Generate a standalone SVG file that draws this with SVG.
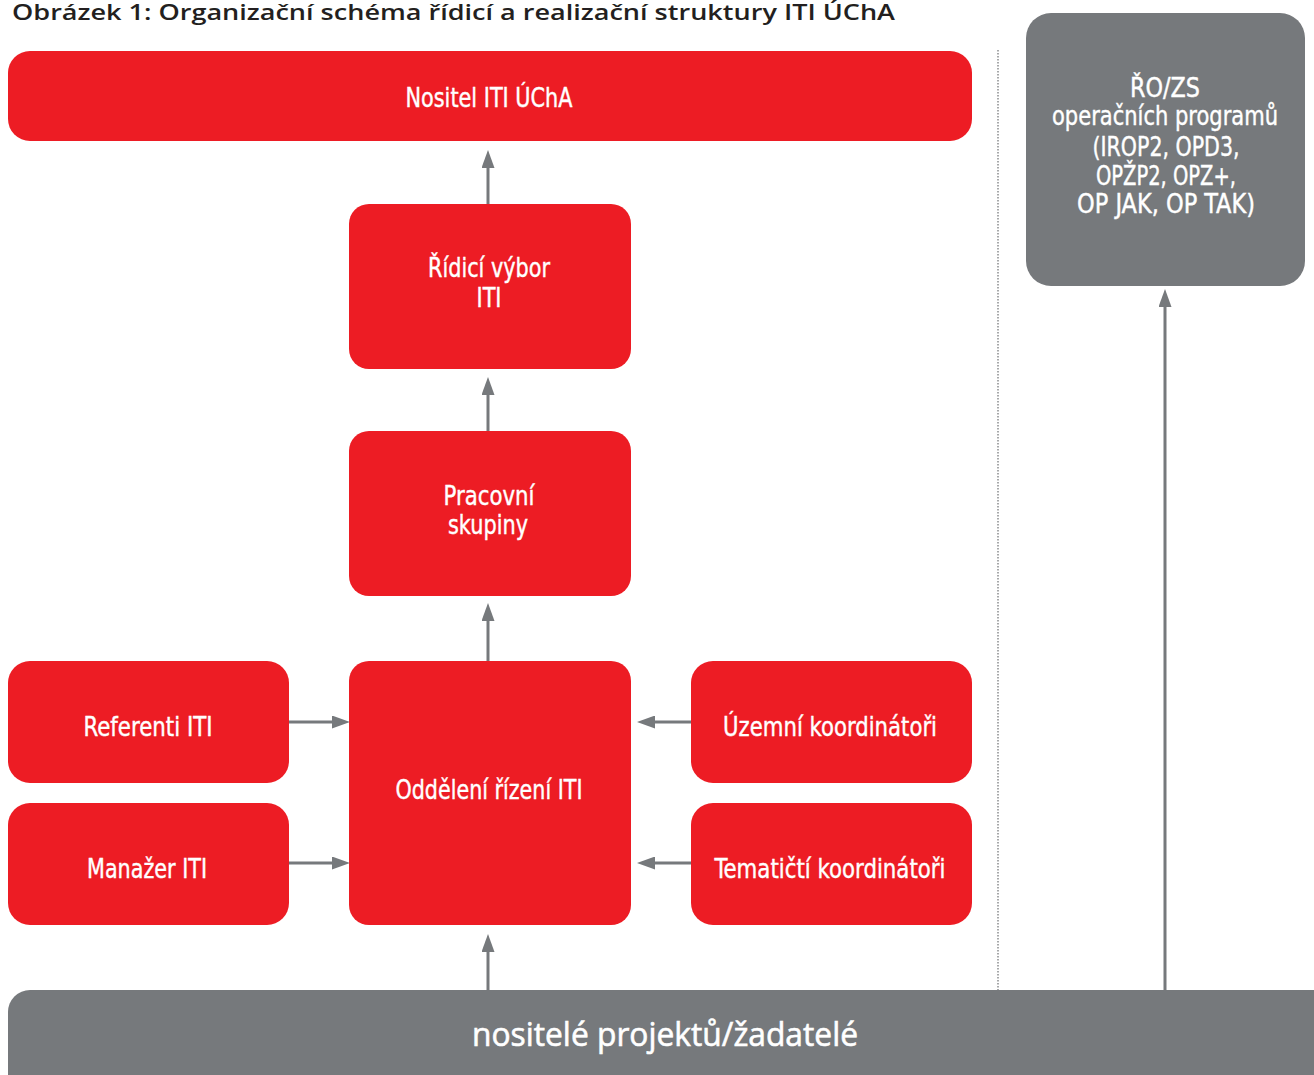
<svg xmlns="http://www.w3.org/2000/svg" width="1314" height="1075" viewBox="0 0 1314 1075">
<style>
.red{fill:#ed1c24}
.gray{fill:#76797c}
.lbl{fill:#ffffff;stroke:#ffffff;stroke-width:0.4;font-family:"DejaVu Sans Condensed","DejaVu Sans",sans-serif;font-stretch:condensed;font-size:26px;text-anchor:middle}
.big{fill:#ffffff;stroke:#ffffff;stroke-width:0.6;font-family:"Open Sans","Noto Sans",sans-serif;font-weight:500;font-size:33px;text-anchor:middle}
.title{fill:#231f20;font-family:"Open Sans","Noto Sans",sans-serif;font-weight:600;font-size:21px}
.con{stroke:#76797c;stroke-width:3;fill:none}
</style>
<defs>
<marker id="ah" markerUnits="userSpaceOnUse" markerWidth="18" markerHeight="13" refX="0" refY="6.5" orient="auto">
<path d="M0,0 L18,6.5 L0,13 Z" fill="#76797c"/>
</marker>
</defs>
<rect width="1314" height="1075" fill="#ffffff"/>
<text class="title" x="12" y="20" textLength="883" lengthAdjust="spacingAndGlyphs">Obrázek 1: Organizační schéma řídicí a realizační struktury ITI ÚChA</text>
<line x1="998" y1="50" x2="998" y2="990" stroke="#8a8c8e" stroke-width="1.5" stroke-dasharray="1.5 1.5"/>
<g id="connectors">
<line class="con" x1="488" y1="204" x2="488" y2="168" marker-end="url(#ah)"/>
<line class="con" x1="488" y1="431" x2="488" y2="395" marker-end="url(#ah)"/>
<line class="con" x1="488" y1="661" x2="488" y2="621" marker-end="url(#ah)"/>
<line class="con" x1="488" y1="990" x2="488" y2="952" marker-end="url(#ah)"/>
<line class="con" x1="289" y1="722" x2="332" y2="722" marker-end="url(#ah)"/>
<line class="con" x1="289" y1="863" x2="332" y2="863" marker-end="url(#ah)"/>
<line class="con" x1="691" y1="722" x2="655" y2="722" marker-end="url(#ah)"/>
<line class="con" x1="691" y1="863" x2="655" y2="863" marker-end="url(#ah)"/>
<line class="con" x1="1165" y1="990" x2="1165" y2="307" stroke-width="2.5" marker-end="url(#ah)"/>
</g>
<g id="nositel">
<rect class="red" x="8" y="51" width="964" height="90" rx="22"/>
<text class="lbl" x="489" y="107" textLength="167" lengthAdjust="spacingAndGlyphs">Nositel ITI ÚChA</text>
</g>
<g id="ridici-vybor">
<rect class="red" x="349" y="204" width="282" height="165" rx="20"/>
<text class="lbl" x="489" y="277" textLength="122" lengthAdjust="spacingAndGlyphs">Řídicí výbor</text>
<text class="lbl" x="489" y="307" textLength="25" lengthAdjust="spacingAndGlyphs">ITI</text>
</g>
<g id="pracovni-skupiny">
<rect class="red" x="349" y="431" width="282" height="165" rx="20"/>
<text class="lbl" x="489" y="505" textLength="91" lengthAdjust="spacingAndGlyphs">Pracovní</text>
<text class="lbl" x="488" y="534" textLength="80" lengthAdjust="spacingAndGlyphs">skupiny</text>
</g>
<g id="oddeleni">
<rect class="red" x="349" y="661" width="282" height="264" rx="20"/>
<text class="lbl" x="489" y="799" textLength="187" lengthAdjust="spacingAndGlyphs">Oddělení řízení ITI</text>
</g>
<g id="referenti">
<rect class="red" x="8" y="661" width="281" height="122" rx="22"/>
<text class="lbl" x="148" y="736" textLength="129" lengthAdjust="spacingAndGlyphs">Referenti ITI</text>
</g>
<g id="manazer">
<rect class="red" x="8" y="803" width="281" height="122" rx="22"/>
<text class="lbl" x="147" y="878" textLength="120" lengthAdjust="spacingAndGlyphs">Manažer ITI</text>
</g>
<g id="uzemni">
<rect class="red" x="691" y="661" width="281" height="122" rx="22"/>
<text class="lbl" x="830" y="736" textLength="214" lengthAdjust="spacingAndGlyphs">Územní koordinátoři</text>
</g>
<g id="tematicti">
<rect class="red" x="691" y="803" width="281" height="122" rx="22"/>
<text class="lbl" x="830" y="878" textLength="231" lengthAdjust="spacingAndGlyphs">Tematičtí koordinátoři</text>
</g>
<g id="ro-zs">
<rect class="gray" x="1026" y="13" width="279" height="273" rx="25"/>
<text class="lbl" x="1165" y="97" textLength="70" lengthAdjust="spacingAndGlyphs">ŘO/ZS</text>
<text class="lbl" x="1165" y="125" textLength="226" lengthAdjust="spacingAndGlyphs">operačních programů</text>
<text class="lbl" x="1166" y="156" textLength="147" lengthAdjust="spacingAndGlyphs">(IROP2, OPD3,</text>
<text class="lbl" x="1166" y="185" textLength="140" lengthAdjust="spacingAndGlyphs">OPŽP2, OPZ+,</text>
<text class="lbl" x="1166" y="213" textLength="178" lengthAdjust="spacingAndGlyphs">OP JAK, OP TAK)</text>
</g>
<g id="nositele-projektu">
<rect class="gray" x="8" y="990" width="1340" height="120" rx="22"/>
<text class="big" x="665" y="1046" textLength="386" lengthAdjust="spacingAndGlyphs">nositelé projektů/žadatelé</text>
</g>
</svg>
